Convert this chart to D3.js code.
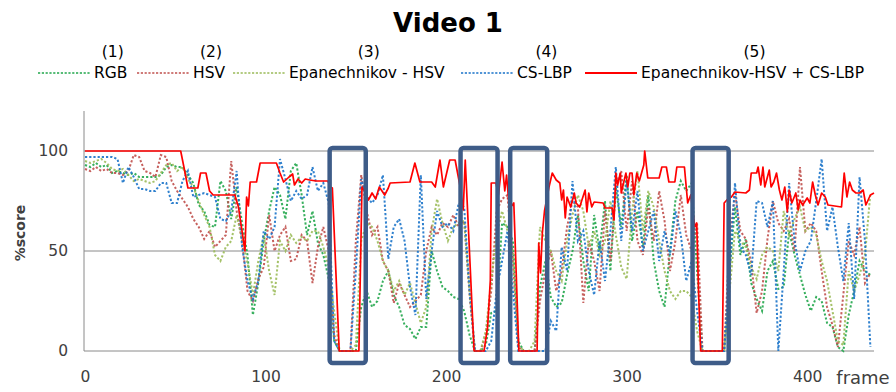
<!DOCTYPE html>
<html>
<head>
<meta charset="utf-8">
<script src="https://cdn.jsdelivr.net/npm/d3@7"></script>
<style>
  body { margin: 0; background: #fff; }
  text { font-family: "DejaVu Sans", Verdana, sans-serif; fill: #404040; }
</style>
</head>
<body>
<div id="chart"></div>
<script>
const width = 896, height = 392;

// one value every 3 frames
const frameStep = 3;

const rgbValues = [
  93,92,94,92,93,89,90,89,88,89,87,87,87,87,88,92,93,92,
  92,88,84,73,70,63,62,85,80,66,82,64,48,18,34,55,70,82,
  78,66,90,94,78,58,70,54,48,36,5,0,0,0,0,22,30,22,25,
  35,40,28,22,13,11,6,12,12,50,40,32,30,27,26,
  20,8,0,0,3,19,20,64,62,55,5,0,0,0,32,45,27,22,24,38,50,68,
  45,30,68,50,75,40,82,62,88,55,70,52,78,45,30,22,50,75,85,
  80,84,40,0,0,0,0,0,40,72,48,56,34,26,20,40,45,31,
  32,60,48,38,28,20,27,25,14,12,2,0,18,30,45,40,38
];

const hsvValues = [
  91,90,92,90,91,89,89,88,90,98,97,90,89,87,98,97,85,80,
  76,72,66,62,56,60,52,55,58,95,70,55,30,25,36,42,68,50,
  58,62,45,46,58,55,34,52,62,50,8,0,0,0,55,88,70,58,62,
  45,40,24,34,28,22,25,28,50,62,58,64,62,68,62,
  65,28,0,0,8,30,70,76,78,45,2,0,0,0,25,40,50,30,40,62,75,72,
  24,55,45,30,70,45,80,90,60,85,55,48,72,55,80,65,40,55,78,
  58,50,64,0,0,0,0,0,55,79,60,56,44,19,30,56,75,64,
  60,66,50,92,60,64,60,40,22,13,2,28,55,48,62,34,39
];

const epanValues = [
  95,94,95,96,94,91,90,91,88,85,86,85,84,85,89,93,94,90,
  92,86,82,75,68,62,48,45,52,55,68,56,44,28,45,58,40,28,
  55,50,58,54,57,55,60,60,52,42,20,0,0,0,3,55,64,62,55,
  45,40,30,35,28,34,24,14,22,60,76,64,55,62,64,
  65,30,0,0,10,35,58,70,60,50,3,0,0,5,62,55,50,40,35,55,68,78,
  70,52,60,48,55,75,58,42,36,70,90,60,80,72,55,40,30,26,30,
  30,27,10,0,0,0,0,0,30,60,55,52,42,36,48,52,50,40,
  70,58,66,72,60,62,58,45,35,20,5,3,40,30,38,48,79
];

const cslbpValues = [
  97,97,97,97,97,97,96,84,92,87,81,81,80,80,84,84,74,74,
  85,90,77,78,79,78,77,66,65,70,90,52,35,26,35,60,56,62,
  96,86,75,80,76,78,92,80,84,74,5,0,0,0,40,86,77,74,78,
  88,46,62,66,55,32,18,88,26,50,70,62,64,60,74,
  72,30,0,0,0,5,30,45,60,30,0,0,0,0,0,0,15,10,52,40,85,55,
  60,40,28,55,35,60,92,55,85,60,80,50,60,70,45,60,48,70,58,
  35,45,20,0,0,0,0,0,40,84,52,48,38,75,74,62,75,0,
  40,84,55,40,50,55,75,96,60,72,52,35,64,26,87,55,2
];

// combined method, read at its breakpoints
const comboFrames = [
  0,53,55,57,62.5,64,67,69,71,83,85,88.6,89.5,90.5,91.5,95,97,106,108,110,113,115,116,118,120,122,124.5,128,134.5,136,137,
  140.8,151.7,153.4,155,157,159,161,163,166,168,169,180,182.7,185.5,192,194,196.6,198.5,202,205,207.6,209.5,210.6,215.5,
  221,223,224.5,225,227.6,229,231,232.5,233.5,235,237.5,240.3,250.4,251.3,252.3,253.3,254.5,257,258.8,261,263,264,265,266,
  267,269,271,272,274,277,278,279,280.7,282,287,288,292,293,294,295,296.5,297,299.6,300.6,301.8,303,304,305.6,307,309.5,
  310,311.7,318,319.5,322,323.4,326.7,327.8,332,333.8,335.5,337.8,338.8,339.8,341,353,354,356,358,360,366,368,369,372,
  372.8,374.3,375.5,376.5,379,380,381.5,383,384.6,386,387.6,389,390,391.5,393.7,395,396,397.5,400,401.5,403,404.5,406,
  408,410,411.5,419,420.5,422,423.5,425,427,429,431,432.5,435,437
];
const comboValues = [
  100,100,91,81.5,81.5,89,89,80,78,78,72,50,77,72.5,84.5,84.5,94,94,89,84.5,87,88.5,83,86,84,86,85.5,85,85,82,81.5,
  0,0,82,80,75.5,79,76,82,78,81.5,84,84.5,94,84.5,84.5,82,95.5,82,95.5,95.5,83,70.5,95.5,0,
  0,12,35.5,84,84,78,94.5,80,88,71,74,0,0,54,39,59,70,82,89,85.5,84,75.5,80.5,66.5,
  77,72,79,74,72,80.5,69.5,79,72,74.5,74,71.5,71.5,65.5,89,83,89,79,89,82,89,89,78,89,85,93,
  100,86.5,86.5,92,92,84.5,84.5,92,92,74,78,62,64,30,0,0,74,76,77,79.5,79,80.5,89,89,
  92,83,92,82,90.5,82,84.5,89,80.5,75.5,82,69.5,80.5,74,79,70.5,75.5,73,76.5,74,84.5,78,73,
  79,77,73,72,89,77,84.5,80.5,79,79,80.5,73,78,79
];

// highlighted frame ranges
const boxStarts = [135.5, 208, 235.5, 336.5];
const boxEnds = [155.5, 228.5, 256, 356.5];

const seriesNames = ["RGB", "HSV", "Epanechnikov - HSV", "CS-LBP", "Epanechnikov-HSV + CS-LBP"];
const seriesNums = ["(1)", "(2)", "(3)", "(4)", "(5)"];
const xTicks = [0, 100, 200, 300, 400];
const yTicks = [0, 50, 100];

const colors = ["#21A64B", "#C0504D", "#9BBB59", "#1A73C9", "#FF0000"];

const frames = d3.range(rgbValues.length).map(i => i * frameStep);

const svg = d3.select("#chart").append("svg")
  .attr("width", width)
  .attr("height", height);

const x = d3.scaleLinear().domain([0, 437]).range([85, 874]);
const y = d3.scaleLinear().domain([0, 120]).range([351, 111]);

// title
svg.append("text")
  .attr("x", 448).attr("y", 32)
  .attr("text-anchor", "middle")
  .attr("font-size", 26)
  .attr("font-weight", "bold")
  .style("fill", "#000")
  .text("Video 1");

// gridlines
svg.append("g").selectAll("line")
  .data(yTicks)
  .enter().append("line")
  .attr("x1", x(0) - 1).attr("x2", x(437))
  .attr("y1", d => y(d)).attr("y2", d => y(d))
  .attr("stroke", "#8a8a8a")
  .attr("stroke-width", 1);

// y axis
const yAxis = svg.append("g")
  .attr("transform", `translate(${x(0) - 1},0)`)
  .call(d3.axisLeft(y).tickValues(yTicks).tickSize(0).tickPadding(16));
yAxis.select(".domain").attr("stroke", "#8a8a8a").attr("d", `M0,${y(120)}V${y(0)}`);
yAxis.selectAll("text").attr("font-size", 15.5).attr("font-family", null).style("fill", "#404040");

// x axis labels only
const xAxis = svg.append("g")
  .attr("transform", `translate(0,${y(0)})`)
  .call(d3.axisBottom(x).tickValues(xTicks).tickSize(0).tickPadding(20));
xAxis.select(".domain").remove();
xAxis.selectAll("text").attr("font-size", 15.5).attr("font-family", null).style("fill", "#404040");

svg.append("text")
  .attr("x", 863).attr("y", 384)
  .attr("text-anchor", "middle")
  .attr("font-size", 18)
  .text("frame");

svg.append("text")
  .attr("transform", "translate(25,233) rotate(-90)")
  .attr("text-anchor", "middle")
  .attr("font-size", 14)
  .attr("font-weight", "bold")
  .text("%score");

// dashed series
const dashed = [rgbValues, hsvValues, epanValues, cslbpValues];
const line = d3.line()
  .x(d => x(d[0]))
  .y(d => y(d[1]));

dashed.forEach((vals, i) => {
  svg.append("path")
    .datum(frames.map((f, j) => [f, vals[j]]))
    .attr("d", line)
    .attr("fill", "none")
    .attr("stroke", colors[i])
    .attr("stroke-width", 2)
    .attr("stroke-dasharray", "2.2,2")
    .attr("opacity", 0.9);
});

svg.append("path")
  .datum(comboFrames.map((f, j) => [f, comboValues[j]]))
  .attr("d", line)
  .attr("fill", "none")
  .attr("stroke", colors[4])
  .attr("stroke-width", 1.7)
  .attr("stroke-linejoin", "round");

// highlight boxes
svg.append("g").selectAll("rect")
  .data(boxStarts)
  .enter().append("rect")
  .attr("x", d => x(d))
  .attr("y", y(101.5))
  .attr("width", (d, i) => x(boxEnds[i]) - x(d))
  .attr("height", y(-6) - y(101.5))
  .attr("rx", 3)
  .attr("fill", "none")
  .attr("stroke", "#3E5C88")
  .attr("stroke-width", 4.5);

// legend
const legendLineX = [38, 137, 233, 461, 585];
const legend = svg.append("g");
seriesNames.forEach((name, i) => {
  const lx = legendLineX[i];
  legend.append("line")
    .attr("x1", lx).attr("x2", lx + 52)
    .attr("y1", 73).attr("y2", 73)
    .attr("stroke", colors[i])
    .attr("stroke-width", i === 4 ? 1.8 : 1.6)
    .attr("stroke-dasharray", i === 4 ? null : "2.2,1.6");
  const t = legend.append("text")
    .attr("x", lx + 56).attr("y", 78)
    .attr("font-size", 15.5)
    .style("fill", "#000")
    .text(name);
  const w = t.node().getComputedTextLength();
  legend.append("text")
    .attr("x", lx + 56 + w / 2 + 2).attr("y", 57)
    .attr("text-anchor", "middle")
    .attr("font-size", 15.5)
    .style("fill", "#000")
    .text(seriesNums[i]);
});
</script>
</body>
</html>
